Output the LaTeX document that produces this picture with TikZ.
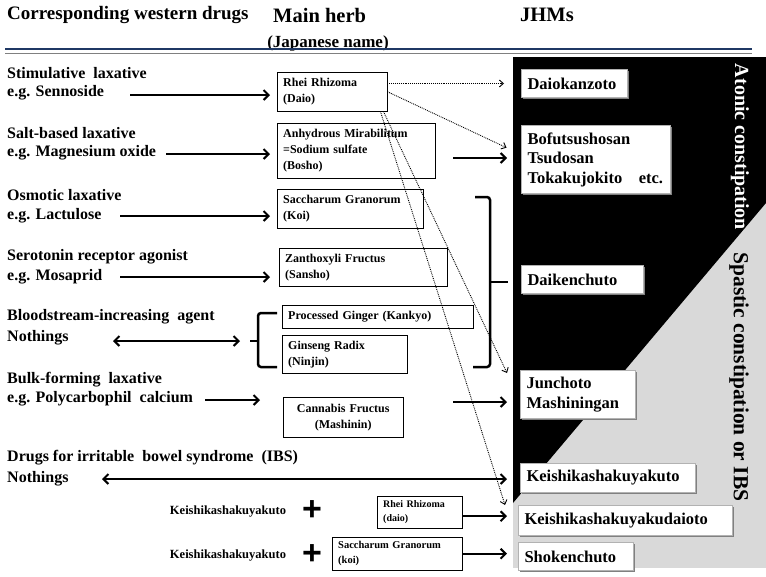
\documentclass[tikz,border=0pt]{standalone}
\usepackage{fontspec}
\setmainfont{Liberation Serif}
\usetikzlibrary{positioning, arrows.meta, shadows}
\definecolor{ruleblue}{RGB}{31,56,100}

\begin{document}
\begin{tikzpicture}[
    x=1pt, y=-1pt,
    hdr/.style={anchor=west, inner sep=0pt, font=\bfseries\fontsize{20.5}{22}\selectfont},
    drug/.style={anchor=west, inner sep=0pt, font=\bfseries\fontsize{16}{18}\selectfont},
    herb/.style={draw, fill=white, anchor=north west, align=left, inner xsep=6pt, inner ysep=0pt, font=\bfseries\fontsize{12}{16}\selectfont},
    jhm/.style={draw=gray!60, line width=1pt, fill=white, anchor=north west, align=left, inner xsep=6pt, inner ysep=0pt, font=\bfseries\fontsize{16.5}{19.5}\selectfont, drop shadow={shadow xshift=1.5pt, shadow yshift=-1.5pt, fill=gray, opacity=1}},
    combo/.style={inner sep=0pt, font=\bfseries\fontsize{12.5}{14}\selectfont},
    plus/.style={inner sep=0pt, font=\fontspec{Liberation Sans}\bfseries\fontsize{34}{34}\selectfont},
    arrow/.style={-{Straight Barb[length=5pt, width=10pt]}, line width=2pt},
    dblarrow/.style={{Straight Barb[length=5pt, width=10pt]}-{Straight Barb[length=5pt, width=10pt]}, line width=2pt},
    dotarrow/.style={-{Straight Barb[length=4pt, width=7pt]}, densely dotted, line width=0.9pt},
    bracket/.style={line width=2.5pt, rounded corners=3pt},
    sidelabel/.style={rotate=-90, inner sep=0pt, font=\bfseries\fontsize{21.5}{22}\selectfont}
]
\useasboundingbox (0,0) rectangle (766,576);

% constipation panel
\fill[black!15] (513,57) rectangle (766,568);
\fill[black] (513,57) -- (766,57) -- (766,203) -- (513,503) -- cycle;
\node[sidelabel, text=white, font=\bfseries\fontsize{20}{22}\selectfont] (atonic) at (740,147) {Atonic constipation};
\node[sidelabel] (spastic) at (739,377) {Spastic constipation or IBS};

% headings
\node[hdr, font=\bfseries\fontsize{19}{21}\selectfont] (hwest) at (7,15) {Corresponding western drugs};
\node[hdr] (hherb) at (273,15) {Main herb};
\node[hdr, anchor=center, font=\bfseries\fontsize{17}{19}\selectfont] (hjap) at (328,43) {(Japanese name)};
\node[hdr] (hjhm) at (520,15) {JHMs};
\draw[line width=2.5pt, draw=ruleblue] (5,49) -- (752,49);
\draw[line width=0.8pt, draw=gray] (5,53) -- (752,53);

% western drugs
\node[drug] (stim) at (7,73) {Stimulative~ laxative};
\node[drug] (stimeg) at (7,93) {e.g. Sennoside};
\node[drug] (salt) at (7,133) {Salt-based laxative};
\node[drug] (salteg) at (7,153) {e.g. Magnesium oxide};
\node[drug] (osm) at (7,195) {Osmotic laxative};
\node[drug] (osmeg) at (7,216) {e.g. Lactulose};
\node[drug] (sero) at (7,257) {Serotonin receptor agonist};
\node[drug] (seroeg) at (7,277) {e.g. Mosaprid};
\node[drug] (blood) at (7,317) {Bloodstream-increasing~ agent};
\node[drug] (bloodno) at (7,338) {Nothings};
\node[drug] (bulk) at (7,380) {Bulk-forming~ laxative};
\node[drug] (bulkeg) at (7,399) {e.g. Polycarbophil~ calcium};
\node[drug] (ibs) at (7,458) {Drugs for irritable~ bowel syndrome~ (IBS)};
\node[drug] (ibsno) at (7,479) {Nothings};

% main herbs
\node[herb, text width=98pt, minimum height=39pt] (rhei) at (277,72) {Rhei Rhizoma\\(Daio)};
\node[herb, text width=146pt, minimum height=55pt] (bosho) at (277,123) {Anhydrous Mirabilitum\\=Sodium sulfate\\(Bosho)};
\node[herb, text width=134pt, minimum height=39pt] (koi) at (277,189) {Saccharum Granorum\\(Koi)};
\node[herb, text width=156pt, minimum height=38pt] (sansho) at (279,248) {Zanthoxyli Fructus\\(Sansho)};
\node[herb, text width=179pt, minimum height=23pt] (kankyo) at (282,305) {Processed Ginger (Kankyo)};
\node[herb, text width=113pt, minimum height=38pt] (ninjin) at (282,335) {Ginseng Radix\\(Ninjin)};
\node[herb, text width=108pt, minimum height=40pt, align=center] (mashinin) at (283,397) {Cannabis Fructus\\(Mashinin)};
\node[herb, text width=73pt, minimum height=32pt, font=\bfseries\fontsize{10}{14}\selectfont] (rhei2) at (377,496) {Rhei Rhizoma\\(daio)};
\node[herb, text width=118pt, minimum height=33pt, font=\bfseries\fontsize{10.5}{15}\selectfont] (koi2) at (332,537) {Saccharum Granorum\\(koi)};

% JHMs
\node[jhm, text width=94pt, minimum height=28pt] (daioka) at (521,69) {Daiokanzoto};
\node[jhm, text width=137pt, minimum height=68pt] (bofu) at (521,125) {Bofutsushosan\\Tsudosan\\Tokakujokito~~~etc.};
\node[jhm, text width=110pt, minimum height=28pt] (daiken) at (521,265) {Daikenchuto};
\node[jhm, text width=103pt, minimum height=48pt] (junchoto) at (520,370) {Junchoto\\Mashiningan};
\node[jhm, text width=163pt, minimum height=29pt] (keishi) at (520,463) {Keishikashakuyakuto};
\node[jhm, text width=202pt, minimum height=30pt] (keishidaio) at (518,505) {Keishikashakuyakudaioto};
\node[jhm, text width=103pt, minimum height=28pt] (shoken) at (518,542) {Shokenchuto};

% combinations
\node[combo] (kskt1) at (228,512) {Keishikashakuyakuto};
\node[plus] (plus1) at (312,511) {+};
\node[combo] (kskt2) at (228,556) {Keishikashakuyakuto};
\node[plus] (plus2) at (312,555) {+};

% arrow tails and brace tips
\coordinate (t1) at (130,95);
\coordinate (t2) at (166,154);
\coordinate (t3) at (120,216);
\coordinate (t4) at (120,277);
\coordinate (t5) at (113,341);
\coordinate (t6) at (205,400);
\coordinate (t7) at (102,479);
\coordinate (t8) at (453,158);
\coordinate (t9) at (453,402);
\coordinate (lbrace) at (250,341);
\coordinate (rbrace) at (490,282);

\draw[arrow, shorten >=7pt] (t1) -- (t1 -| rhei.west);
\draw[arrow, shorten >=7pt] (t2) -- (t2 -| bosho.west);
\draw[arrow, shorten >=7pt] (t3) -- (t3 -| koi.west);
\draw[arrow, shorten >=9pt] (t4) -- (t4 -| sansho.west);
\draw[dblarrow, shorten >=10pt] (t5) -- (lbrace);
\draw[arrow, shorten >=23pt] (t6) -- (t6 -| mashinin.west);
\draw[dblarrow, shorten >=13pt] (t7) -- (t7 -| keishi.west);
\draw[arrow, shorten >=14pt] (t8) -- (t8 -| bofu.west);
\draw[arrow, shorten >=13pt] (t9) -- (t9 -| junchoto.west);
\draw[arrow, shorten >=11pt] ([yshift=-4pt]rhei2.east) -- ([yshift=-4pt]rhei2.east -| keishidaio.west);
\draw[arrow, shorten >=11pt] (koi2.east) -- (koi2.east -| shoken.west);

% braces
\draw[bracket] ([xshift=-5pt]kankyo.north west |- 0,313) -- (258,313) -- (258,367) -- ([xshift=-5pt]ninjin.south west |- 0,367);
\draw[bracket] (lbrace) -- (258,341);
\draw[bracket] (475,197) -- (rbrace |- 0,197) -- (rbrace |- 0,367) -- (473,367);
\draw[bracket, shorten >=13pt] (rbrace) -- (rbrace -| daiken.west);

% Daio routes
\draw[dotarrow, shorten >=17pt] (rhei.east |- daioka.west) -- (daioka.west);
\draw[dotarrow, shorten >=16pt] (rhei.east) -- ([yshift=5pt]bofu.west);
\draw[dotarrow] ([xshift=-4pt]rhei.south east) -- ([xshift=-13pt, yshift=-3pt]junchoto.north west);
\draw[dotarrow] ([xshift=-7pt]rhei.south east) -- ([xshift=-13pt]keishidaio.north west);
\end{tikzpicture}
\end{document}
